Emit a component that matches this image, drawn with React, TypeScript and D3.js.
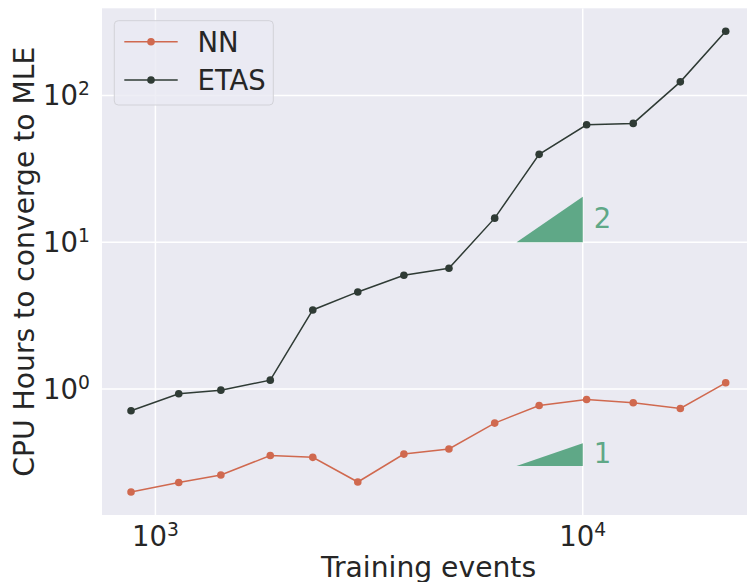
import React from "react";
import * as d3 from "d3";

const trainingEvents = [877, 1134, 1423, 1857, 2335, 2976, 3815, 4863, 6223, 7907, 10211, 13127, 16919, 21604];
const nnHours = [0.199, 0.231, 0.26, 0.353, 0.343, 0.233, 0.361, 0.391, 0.587, 0.774, 0.85, 0.807, 0.738, 1.104];
const etasHours = [0.712, 0.929, 0.984, 1.151, 3.46, 4.59, 5.96, 6.65, 14.6, 39.7, 63.1, 64.5, 123.7, 273.7];
const seriesNames = ["NN", "ETAS"];
const xTickValues = [1000, 10000];
const xTickExps = ["3", "4"];
const yTickValues = [1, 10, 100];
const yTickExps = ["0", "1", "2"];
// slope triangles: [x0, x1, y0, slope, label]
const triangles: [number, number, number, number, string][] = [
  [7000, 10000, 10, 2, "2"],
  [7000, 10000, 0.3, 1, "1"],
];

const W = 747;
const H = 582;
const left = 102;
const right = 755;
const top = 8.3;
const bottom = 515;

const NN_COLOR = "#d0694f";
const ETAS_COLOR = "#2f3b35";
const GREEN = "#5fa887";
const TEXT = "#262626";
const FONT = "DejaVu Sans, sans-serif";
const FS = 27.5;
const LFS = 28.2;

export default function App() {
  const x = d3.scaleLog().domain([750, 25300]).range([left, right]);
  const y = d3.scaleLog().domain([0.1389, 392]).range([bottom, top]);
  const line = d3
    .line<[number, number]>()
    .x((d) => x(d[0]))
    .y((d) => y(d[1]));
  const nnPts: [number, number][] = trainingEvents.map((v, i) => [v, nnHours[i]]);
  const etasPts: [number, number][] = trainingEvents.map((v, i) => [v, etasHours[i]]);
  const series = [
    { name: seriesNames[0], pts: nnPts, color: NN_COLOR },
    { name: seriesNames[1], pts: etasPts, color: ETAS_COLOR },
  ];

  return (
    <svg
      width={W}
      height={H}
      style={{ position: "absolute", left: 0, top: 0, background: "#fff" }}
      fontFamily={FONT}
    >
      <defs>
        <clipPath id="plotclip">
          <rect x={left} y={top} width={right - left} height={bottom - top} />
        </clipPath>
      </defs>
      <rect x={left} y={top} width={right - left} height={bottom - top} fill="#eaeaf2" />
      <g clipPath="url(#plotclip)">
        {xTickValues.map((v) => (
          <line key={"gx" + v} x1={x(v)} x2={x(v)} y1={top} y2={bottom} stroke="#fff" strokeWidth={1.5} />
        ))}
        {yTickValues.map((v) => (
          <line key={"gy" + v} x1={left} x2={right} y1={y(v)} y2={y(v)} stroke="#fff" strokeWidth={1.5} />
        ))}
        {triangles.map(([x0, x1, y0, s, lab]) => {
          const y1 = y0 * Math.pow(x1 / x0, s);
          const pts = [
            [x(x0), y(y0)],
            [x(x1), y(y0)],
            [x(x1), y(y1)],
          ]
            .map((p) => p.join(","))
            .join(" ");
          return (
            <g key={"tri" + lab}>
              <polygon points={pts} fill={GREEN} />
              <text
                x={x(x1) + 11}
                y={y(Math.sqrt(y0 * y1)) + 8.5}
                fontSize={FS}
                fill={GREEN}
              >
                {lab}
              </text>
            </g>
          );
        })}
        {series.map((s) => (
          <g key={s.name}>
            <path d={line(s.pts) || ""} fill="none" stroke={s.color} strokeWidth={1.5} />
            {s.pts.map((p, i) => (
              <circle key={i} cx={x(p[0])} cy={y(p[1])} r={3.8} fill={s.color} />
            ))}
          </g>
        ))}
      </g>
      {xTickValues.map((v, i) => (
        <text key={"tx" + v} x={x(v)} y={546} fontSize={FS} fill={TEXT} textAnchor="middle">
          <tspan>10</tspan>
          <tspan fontSize={FS * 0.68} dy={-10}>
            {xTickExps[i]}
          </tspan>
        </text>
      ))}
      {yTickValues.map((v, i) => (
        <text key={"ty" + v} x={90} y={y(v) + 10} fontSize={FS} fill={TEXT} textAnchor="end">
          <tspan>10</tspan>
          <tspan fontSize={FS * 0.68} dy={-10}>
            {yTickExps[i]}
          </tspan>
        </text>
      ))}
      <text x={428.5} y={576.5} fontSize={LFS} fill={TEXT} textAnchor="middle">
        Training events
      </text>
      <text
        transform={`translate(34,${(top + bottom) / 2}) rotate(-90)`}
        fontSize={LFS}
        fill={TEXT}
        textAnchor="middle"
      >
        CPU Hours to converge to MLE
      </text>
      <g>
        <rect
          x={114.3}
          y={20.7}
          width={159}
          height={84.3}
          rx={4}
          fill="#eaeaf2"
          fillOpacity={0.8}
          stroke="#d2d2d8"
          strokeWidth={1}
        />
        {series.map((s, i) => {
          const ly = 41.7 + i * 38.3;
          return (
            <g key={"lg" + s.name}>
              <line x1={124.3} x2={177.7} y1={ly} y2={ly} stroke={s.color} strokeWidth={1.5} />
              <circle cx={151} cy={ly} r={3.8} fill={s.color} />
              <text x={197.5} y={ly + 10} fontSize={FS} fill={TEXT}>
                {s.name}
              </text>
            </g>
          );
        })}
      </g>
    </svg>
  );
}
